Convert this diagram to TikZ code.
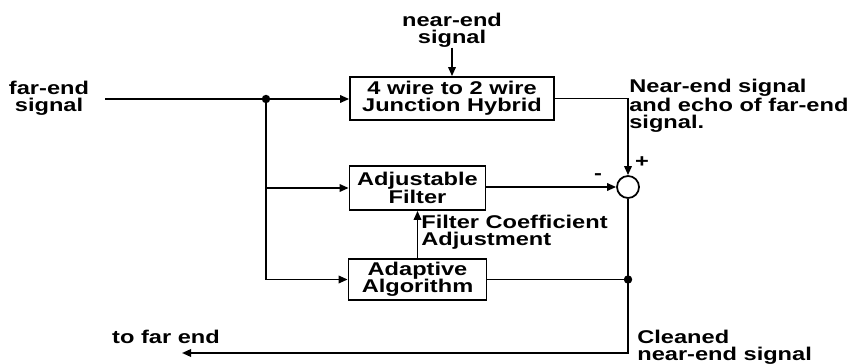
\documentclass[tikz,border=0pt]{standalone}
\usepackage{fontspec}
\setmainfont{Liberation Sans}[FakeStretch=1.28]
\usetikzlibrary{positioning,arrows.meta}

\begin{document}
\begin{tikzpicture}[x=0.02cm, y=-0.02cm,
    blk/.style={draw, line width=1pt, align=center, inner sep=0pt},
    txt/.style={align=left, inner sep=0pt},
    arr/.style={-{Triangle[length=1.8mm, width=1.5mm]}, line width=1pt},
    wire/.style={line width=1pt},
    every node/.style={font=\fontsize{10.5}{9.8}\selectfont\bfseries}]
  \useasboundingbox (0,0) rectangle (857,364);
  % blocks
  \node[blk, minimum width=4.08cm, minimum height=0.86cm] (hybrid) at (452,98.5) {4 wire to 2 wire\\Junction Hybrid};
  \node[blk, minimum width=2.72cm, minimum height=0.88cm] (filt)   at (417.5,188) {Adjustable\\Filter};
  \node[blk, minimum width=2.76cm, minimum height=0.82cm] (adapt)  at (417.5,279.5) {Adaptive\\Algorithm};
  \node[draw, circle, line width=1pt, minimum size=0.44cm, inner sep=0pt] (sum) at (628,187) {};
  % texts
  \node[txt, align=center] (farin) at (49,98)  {far-end\\signal};
  \node[txt, align=center] (near)  at (452,30) {near-end\\signal};
  \node[txt, anchor=north west] (echo)  at (629,79)  {Near-end signal\\and echo of far-end\\signal.};
  \node[txt, anchor=west]       (coef)  at (421,232) {Filter Coefficient\\Adjustment};
  \node[txt, anchor=north west] (clean) at (637,330) {Cleaned\\near-end signal};
  \node[txt] (tofar) at (166,337) {to far end};
  \node[txt] (plus)  at (642,162) {+};
  \node[txt] (minus) at (598,177) {-};
  \coordinate (start)  at (105,99);
  \coordinate (split)  at (266,99);
  \coordinate (tap)    at (sum |- adapt);
  \coordinate (farout) at (182,353);
  % connectors
  \draw[wire] (start) -- (split);
  \draw[arr] (split) -- (hybrid.west |- split);
  \draw[arr] (split) |- (adapt.west);
  \draw[arr] (split |- filt.west) -- (filt.west);
  \draw[arr] (near.south) -- (hybrid.north);
  \draw[arr] (hybrid.east) -| (sum.north);
  \draw[arr] (filt.east |- sum.west) -- (sum.west);
  \draw[arr] (adapt.north) -- (filt.south);
  \draw[wire] (adapt.east |- tap) -- (tap);
  \draw[arr] (sum.south) |- (farout);
  \fill (split) circle (2.4pt);
  \fill (tap) circle (2.4pt);
\end{tikzpicture}
\end{document}
